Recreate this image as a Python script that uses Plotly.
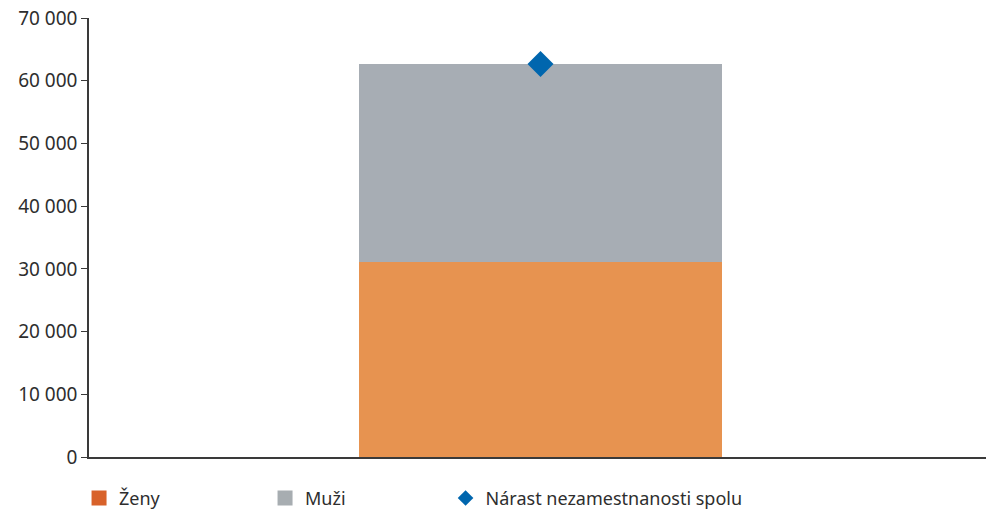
import plotly.graph_objects as go

# Data
categories = ["Spolu"]
zeny = [31150]
muzi = [31520]
narast_spolu = [62670]

series_names = ["Ženy", "Muži", "Nárast nezamestnanosti spolu"]
bar_colors = ["#E79350", "#A7ADB4"]
legend_colors = ["#D8622A", "#A7ADB1"]
marker_color = "#0066AE"
text_color = "#2E2E2E"
axis_color = "#3A3A3A"
font_family = "Noto Sans, Open Sans, sans-serif"

fig = go.Figure()

# Stacked bars
fig.add_trace(go.Bar(x=categories, y=zeny, name=series_names[0],
                     marker=dict(color=bar_colors[0], line=dict(width=0)),
                     width=0.402, showlegend=False))
fig.add_trace(go.Bar(x=categories, y=muzi, name=series_names[1],
                     marker=dict(color=bar_colors[1], line=dict(width=0)),
                     width=0.402, showlegend=False))

# Total marker
fig.add_trace(go.Scatter(x=categories, y=narast_spolu, name=series_names[2],
                         mode="markers",
                         marker=dict(symbol="diamond", size=20, color=marker_color),
                         showlegend=False))

# Legend entries (square swatches for the bar series, diamond for the total)
for name, col in zip(series_names[:2], legend_colors):
    fig.add_trace(go.Scatter(x=[None], y=[None], name=name, mode="markers",
                             marker=dict(symbol="square", size=15, color=col),
                             legend="legend"))
fig.add_trace(go.Scatter(x=[None], y=[None], name=series_names[2], mode="markers",
                         marker=dict(symbol="diamond", size=12, color=marker_color),
                         legend="legend2"))

legend_common = dict(orientation="h", yanchor="top", xanchor="left", xref="paper",
                     font=dict(size=18, color=text_color), itemsizing="trace",
                     bgcolor="rgba(0,0,0,0)", borderwidth=0)

fig.update_layout(
    width=986, height=511,
    margin=dict(l=89, r=0, t=18, b=54, autoexpand=False),
    barmode="stack",
    plot_bgcolor="white", paper_bgcolor="white",
    separators=", ",
    font=dict(family=font_family, size=18, color=text_color),
    showlegend=True,
    legend=dict(x=-0.0111, y=-0.052, entrywidth=141, entrywidthmode="pixels",
                traceorder="normal", **legend_common),
    legend2=dict(x=0.3975, y=-0.052, **legend_common),
)

fig.update_xaxes(
    type="category", range=[-0.5, 0.4934],
    showticklabels=False, ticks="",
    showline=True, linecolor=axis_color, linewidth=1.5,
    showgrid=False, zeroline=False,
)
fig.update_yaxes(
    range=[0, 70000], dtick=10000, tickformat=",d",
    showline=True, linecolor=axis_color, linewidth=1.5,
    ticks="outside", ticklen=6, tickcolor=axis_color, tickwidth=1.2,
    showgrid=False, zeroline=False,
    tickfont=dict(size=19, color=text_color),
)

fig.write_html("out.html")
